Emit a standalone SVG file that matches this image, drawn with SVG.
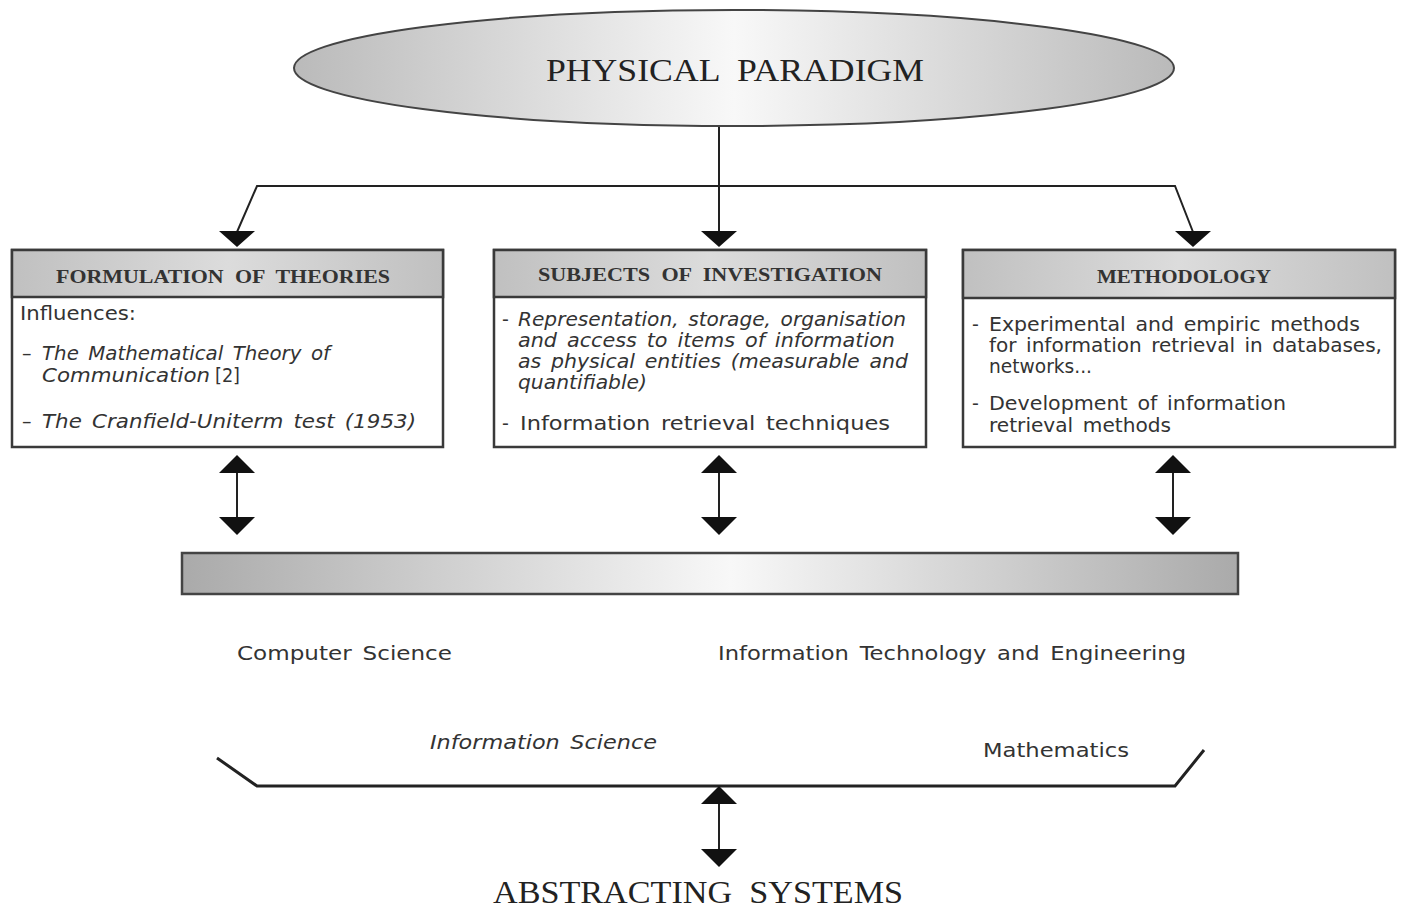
<svg xmlns="http://www.w3.org/2000/svg" width="1401" height="909" viewBox="0 0 1401 909">
  <defs>
    <linearGradient id="gEllipse" x1="0" y1="0" x2="1" y2="0">
      <stop offset="0" stop-color="#bababa"/>
      <stop offset="0.5" stop-color="#f8f8f8"/>
      <stop offset="1" stop-color="#bababa"/>
    </linearGradient>
    <linearGradient id="gHead" x1="0" y1="0" x2="1" y2="0">
      <stop offset="0" stop-color="#c0c0c0"/>
      <stop offset="0.5" stop-color="#dcdcdc"/>
      <stop offset="1" stop-color="#c0c0c0"/>
    </linearGradient>
    <linearGradient id="gBar" x1="0" y1="0" x2="1" y2="0">
      <stop offset="0" stop-color="#aaaaaa"/>
      <stop offset="0.52" stop-color="#f8f8f8"/>
      <stop offset="1" stop-color="#aaaaaa"/>
    </linearGradient>
  </defs>
  <style>
    .line { fill: none; stroke: #222; stroke-width: 2; }
    .head { fill: #111; }
    .box { fill: #fff; stroke: #3a3a3a; stroke-width: 2.5; }
    .hdr { fill: url(#gHead); stroke: #3a3a3a; stroke-width: 2.5; }
    .hdrtxt { font-family: "Liberation Serif", serif; font-weight: bold; font-size: 19px; fill: #333; text-anchor: middle; word-spacing: 5px; }
    .txt { font-family: "DejaVu Sans", "Liberation Sans", sans-serif; font-size: 19px; fill: #333; word-spacing: 3px; }
    .it { font-style: italic; }
    .title { font-family: "Liberation Serif", serif; font-size: 32px; fill: #222; text-anchor: middle; word-spacing: 8px; }
  </style>

  <rect width="1401" height="909" fill="#fff"/>

  <!-- top ellipse -->
  <g id="physical-paradigm">
    <ellipse cx="734" cy="68" rx="440" ry="58" fill="url(#gEllipse)" stroke="#444" stroke-width="2"/>
    <text class="title" x="735" y="81" textLength="378" lengthAdjust="spacingAndGlyphs">PHYSICAL PARADIGM</text>
  </g>

  <!-- connectors -->
  <g id="connectors">
    <path class="line" d="M719,127 V232"/>
    <path class="line" d="M237,232 L257,186 H1175 L1193,232"/>
    <polygon class="head" points="219,231 255,231 237,247"/>
    <polygon class="head" points="701,231 737,231 719,247"/>
    <polygon class="head" points="1175,231 1211,231 1193,247"/>

    <!-- double arrows to the bar -->
    <g>
      <path class="line" d="M237,470 V520"/>
      <polygon class="head" points="237,455 255,473 219,473"/>
      <polygon class="head" points="219,517 255,517 237,535"/>
    </g>
    <g>
      <path class="line" d="M719,470 V520"/>
      <polygon class="head" points="719,455 737,473 701,473"/>
      <polygon class="head" points="701,517 737,517 719,535"/>
    </g>
    <g>
      <path class="line" d="M1173,470 V520"/>
      <polygon class="head" points="1173,455 1191,473 1155,473"/>
      <polygon class="head" points="1155,517 1191,517 1173,535"/>
    </g>

    <!-- bracket and arrow down to abstracting systems -->
    <path d="M217,758 L257,786 H1175 L1204,750" fill="none" stroke="#222" stroke-width="3"/>
    <path class="line" d="M719,800 V852"/>
    <polygon class="head" points="719,786 737,804 701,804"/>
    <polygon class="head" points="701,849 737,849 719,867"/>
  </g>

  <!-- box 1 -->
  <g id="formulation-of-theories">
    <rect class="box" x="12" y="250" width="431" height="197"/>
    <rect class="hdr" x="12" y="250" width="431" height="47"/>
    <text class="hdrtxt" x="223" y="283" textLength="334" lengthAdjust="spacingAndGlyphs">FORMULATION OF THEORIES</text>
    <text class="txt" x="20" y="320" textLength="116" lengthAdjust="spacingAndGlyphs">Influences:</text>
    <text class="txt" x="22" y="360">–</text>
    <text class="txt it" x="42" y="360" textLength="288" lengthAdjust="spacingAndGlyphs">The Mathematical Theory of</text>
    <text class="txt" x="42" y="382"><tspan class="it" textLength="168" lengthAdjust="spacingAndGlyphs">Communication</tspan><tspan x="215" textLength="25" lengthAdjust="spacingAndGlyphs">[2]</tspan></text>
    <text class="txt" x="22" y="428">–</text>
    <text class="txt it" x="42" y="428" textLength="374" lengthAdjust="spacingAndGlyphs">The  Cranfield-Uniterm  test  (1953)</text>
  </g>

  <!-- box 2 -->
  <g id="subjects-of-investigation">
    <rect class="box" x="494" y="250" width="432" height="197"/>
    <rect class="hdr" x="494" y="250" width="432" height="47"/>
    <text class="hdrtxt" x="710" y="281" textLength="344" lengthAdjust="spacingAndGlyphs">SUBJECTS OF INVESTIGATION</text>
    <text class="txt" x="502" y="326">-</text>
    <text class="txt it" x="518" y="326" textLength="388" lengthAdjust="spacingAndGlyphs">Representation, storage, organisation</text>
    <text class="txt it" x="518" y="347" textLength="377" lengthAdjust="spacingAndGlyphs">and access to items of information</text>
    <text class="txt it" x="518" y="368" textLength="390" lengthAdjust="spacingAndGlyphs">as physical entities (measurable and</text>
    <text class="txt it" x="518" y="389" textLength="129" lengthAdjust="spacingAndGlyphs">quantifiable)</text>
    <text class="txt" x="502" y="430">-</text>
    <text class="txt" x="520" y="430" textLength="370" lengthAdjust="spacingAndGlyphs">Information   retrieval   techniques</text>
  </g>

  <!-- box 3 -->
  <g id="methodology">
    <rect class="box" x="963" y="250" width="432" height="197"/>
    <rect class="hdr" x="963" y="250" width="432" height="48"/>
    <text class="hdrtxt" x="1184" y="283" textLength="174" lengthAdjust="spacingAndGlyphs">METHODOLOGY</text>
    <text class="txt" x="972" y="331">-</text>
    <text class="txt" x="989" y="331" textLength="371" lengthAdjust="spacingAndGlyphs">Experimental and empiric methods</text>
    <text class="txt" x="989" y="352" textLength="393" lengthAdjust="spacingAndGlyphs">for information retrieval in databases,</text>
    <text class="txt" x="989" y="373" textLength="103" lengthAdjust="spacingAndGlyphs">networks...</text>
    <text class="txt" x="972" y="410">-</text>
    <text class="txt" x="989" y="410" textLength="297" lengthAdjust="spacingAndGlyphs">Development of information</text>
    <text class="txt" x="989" y="432" textLength="182" lengthAdjust="spacingAndGlyphs">retrieval methods</text>
  </g>

  <!-- shaded bar -->
  <g id="disciplines-bar">
    <rect x="182" y="553" width="1056" height="41" fill="url(#gBar)" stroke="#444" stroke-width="2.5"/>
  </g>

  <!-- discipline labels -->
  <g id="disciplines">
    <text class="txt" x="237" y="660" textLength="215" lengthAdjust="spacingAndGlyphs">Computer Science</text>
    <text class="txt" x="718" y="660" textLength="468" lengthAdjust="spacingAndGlyphs">Information Technology and Engineering</text>
    <text class="txt it" x="430" y="749" textLength="227" lengthAdjust="spacingAndGlyphs">Information Science</text>
    <text class="txt" x="983" y="757" textLength="146" lengthAdjust="spacingAndGlyphs">Mathematics</text>
  </g>

  <!-- bottom title -->
  <g id="abstracting-systems">
    <text class="title" x="698" y="903" textLength="410" lengthAdjust="spacingAndGlyphs">ABSTRACTING SYSTEMS</text>
  </g>
</svg>
